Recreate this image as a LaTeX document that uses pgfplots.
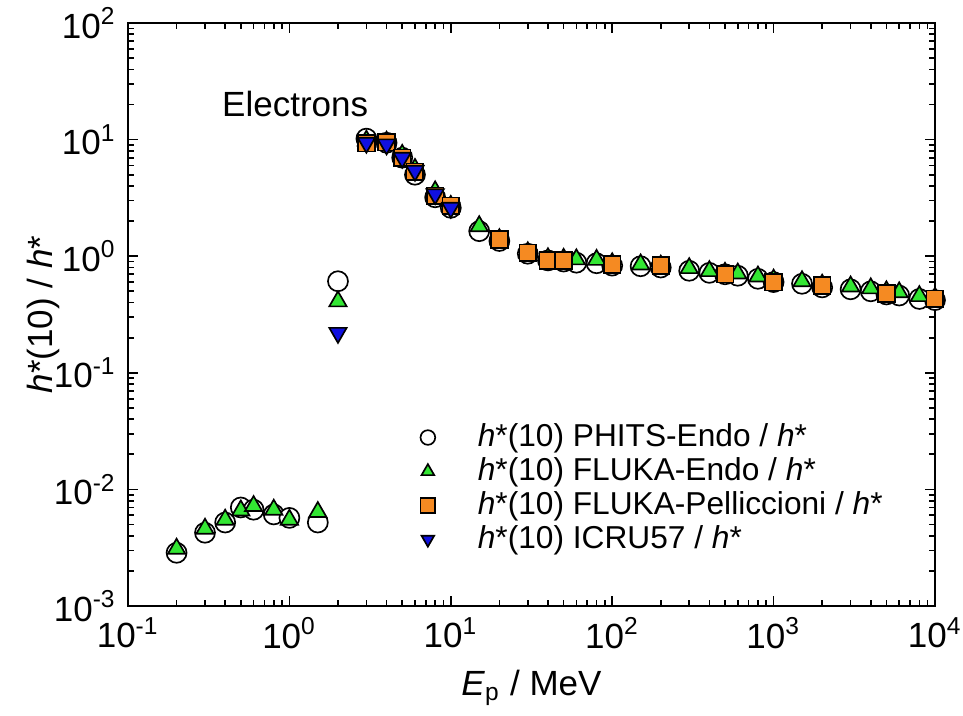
\documentclass[border=0pt]{standalone}
\usepackage{pgfplots}
\pgfplotsset{compat=1.18}
\usepackage{fontspec}
\setmainfont{Liberation Sans}
\definecolor{tri}{HTML}{33E633}
\definecolor{sq}{HTML}{F58A22}
\definecolor{icru}{HTML}{1010E0}

\begin{document}
\begin{tikzpicture}
\useasboundingbox (-38.4pt,-32.7pt) rectangle (250.5pt,181.8pt);
\begin{axis}[
  at={(0,0)}, anchor=south west,
  scale only axis, width=242.1pt, height=174.9pt,
  xmode=log, ymode=log, log basis x=10, log basis y=10,
  xmin=0.1, xmax=10000, ymin=0.001, ymax=100,
  tick align=inside,
  major tick length=3pt, minor tick length=1.8pt,
  axis line style={line width=0.6pt},
  every tick/.style={line width=0.5pt, black},
  xticklabel={10\textsuperscript{\pgfmathparse{int(round(\tick))}\pgfmathresult}},
  yticklabel={10\textsuperscript{\pgfmathparse{int(round(\tick))}\pgfmathresult}},
  tick label style={font=\fontsize{10.5}{12}\selectfont},
  xlabel={\textit{E}\textsubscript{p} / MeV},
  ylabel={\textit{h}*(10) / \textit{h}*},
  label style={font=\fontsize{10.5}{12}\selectfont},
  x label style={at={(axis description cs:0.5,-0.153)}, anchor=base},
  y label style={at={(axis description cs:-0.105,0.5)}, anchor=center},
  legend style={at={(0.346,0.337)}, anchor=north west, draw=none, fill=none,
    font=\fontsize{9.5}{11}\selectfont, row sep=-2.2pt},
  legend cell align=left,
  legend image code/.code={
    \draw[#1, mark size=2.2pt] plot coordinates {(0pt,0pt)};
    \path[draw=none, fill=none] (-3pt,0pt) rectangle (13pt,0pt);
  },
  clip=false,
]
% PHITS-Endo
\addplot[only marks, mark=*, mark size=3pt, mark options={fill=white, draw=black, line width=0.5pt}]
  coordinates {(0.2,0.00286) (0.3,0.00425) (0.4,0.0052) (0.5,0.0070) (0.6,0.0067)
  (0.8,0.0061) (1.0,0.0057) (1.5,0.0052) (2,0.61) (3,10.2) (4,9.4) (5,7.0) (6,5.0)
  (8,3.2) (10,2.6) (15,1.64) (20,1.35) (30,1.05) (40,0.92) (50,0.90) (60,0.88)
  (80,0.87) (100,0.83) (150,0.82) (200,0.80) (300,0.75) (400,0.72) (500,0.70)
  (600,0.68) (800,0.64) (1000,0.60) (1500,0.58) (2000,0.54) (3000,0.52) (4000,0.50)
  (5000,0.47) (6000,0.46) (8000,0.43) (10000,0.42)};
\addlegendentry{\textit{h}*(10) PHITS-Endo / \textit{h}*}
% FLUKA-Endo
\addplot[only marks, mark=triangle*, mark size=3pt, mark options={fill=tri, draw=black, line width=0.5pt}]
  coordinates {(0.2,0.0031) (0.3,0.0046) (0.4,0.0055) (0.5,0.0066) (0.6,0.0072)
  (0.8,0.0067) (1.0,0.0055) (1.5,0.0064) (2,0.41) (3,9.8) (4,9.6) (5,7.4) (6,5.6)
  (8,3.6) (10,2.7) (15,1.81) (20,1.40) (30,1.08) (40,0.96) (50,0.95) (60,0.94)
  (80,0.93) (100,0.87) (150,0.85) (200,0.83) (300,0.79) (400,0.745) (500,0.72)
  (600,0.71) (800,0.67) (1000,0.63) (1500,0.61) (2000,0.57) (3000,0.55) (4000,0.53)
  (5000,0.50) (6000,0.49) (8000,0.455) (10000,0.44)};
\addlegendentry{\textit{h}*(10) FLUKA-Endo / \textit{h}*}
% FLUKA-Pelliccioni
\addplot[only marks, mark=square*, mark size=2.5pt, mark options={fill=sq, draw=black, line width=0.5pt}]
  coordinates {(3,9.3) (4,9.5) (5,7.0) (6,5.3) (8,3.3) (10,2.7) (20,1.39) (30,1.07)
  (40,0.92) (50,0.92) (100,0.85) (200,0.83) (500,0.70) (1000,0.60) (2000,0.56)
  (5000,0.48) (10000,0.43)};
\addlegendentry{\textit{h}*(10) FLUKA-Pelliccioni / \textit{h}*}
% ICRU57
\addplot[only marks, mark=triangle*, mark size=3pt, mark options={rotate=180, fill=icru, draw=black, line width=0.5pt}]
  coordinates {(2,0.22) (3,9.4) (4,9.1) (5,7.0) (6,5.4) (8,3.4) (10,2.6)};
\addlegendentry{\textit{h}*(10) ICRU57 / \textit{h}*}

\node[anchor=base west, inner sep=0pt, font=\fontsize{10.5}{12}\selectfont] at (axis cs:0.38,15.8) {Electrons};
\end{axis}
\end{tikzpicture}
\end{document}
